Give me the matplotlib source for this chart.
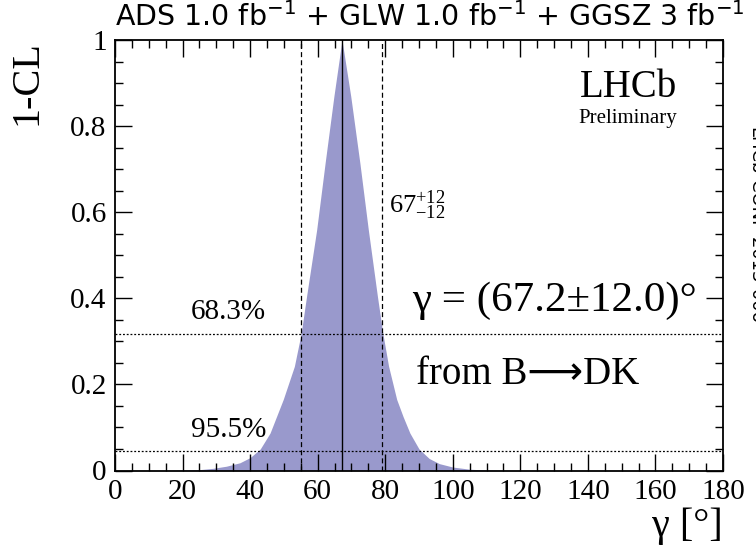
import matplotlib
matplotlib.use("Agg")
import matplotlib.pyplot as plt
from matplotlib.ticker import MultipleLocator, FixedLocator

plt.rcParams['font.family'] = ['Liberation Serif', 'DejaVu Serif']
plt.rcParams['mathtext.fontset'] = 'custom'
plt.rcParams['mathtext.rm'] = 'Liberation Serif'

# Data
gamma = [15, 20, 25, 29, 33, 37, 40, 43, 45.9, 49.8, 53.1, 55.1, 56.7, 59.7, 62.2, 64.8,
         67.2, 69.8, 72.5, 75.0, 77.7, 79.3, 81.0, 83.4, 85.3, 87.3, 90.0, 93.0, 96.0,
         100, 105, 110, 115]
one_minus_cl = [0.0, 0.001, 0.002, 0.005, 0.010, 0.018, 0.030, 0.050, 0.087, 0.165, 0.242,
                0.318, 0.404, 0.559, 0.714, 0.869, 1.0, 0.869, 0.714, 0.559, 0.404, 0.318,
                0.242, 0.165, 0.125, 0.087, 0.050, 0.028, 0.016, 0.008, 0.003, 0.001, 0.0]
best_fit = 67.2
interval_1sigma = [55, 79]
cl_levels = [0.317, 0.045]
cl_labels = ["68.3%", "95.5%"]
x_ticks = [0, 20, 40, 60, 80, 100, 120, 140, 160, 180]
y_ticks = [0, 0.2, 0.4, 0.6, 0.8, 1]
y_ticklabels = ["0", "0.2", "0.4", "0.6", "0.8", "1"]

fig = plt.figure(figsize=(7.56, 5.53), dpi=100)
ax = fig.add_axes([115/756, 1-470.5/553, (723-115)/756, (470.5-40)/553])

ax.fill_between(gamma, one_minus_cl, 0, color='#9999cc', linewidth=0, zorder=1)

for lvl, lab in zip(cl_levels, cl_labels):
    ax.axhline(lvl, color='black', linestyle=(0, (1.5, 1.5)), linewidth=0.9, zorder=3)
    ax.text(22.5, lvl + 0.02, lab, fontsize=21, ha='left', va='bottom', zorder=4)

for xv in interval_1sigma:
    ax.axvline(xv, color='black', linestyle=(0, (4, 2.5)), linewidth=0.9, zorder=3)
ax.axvline(best_fit, color='black', linewidth=1.0, zorder=3)

ax.set_xlim(0, 180)
ax.set_ylim(0, 1)
ax.xaxis.set_major_locator(FixedLocator(x_ticks))
ax.xaxis.set_minor_locator(MultipleLocator(5))
ax.yaxis.set_major_locator(FixedLocator(y_ticks))
ax.set_yticklabels(y_ticklabels)
ax.yaxis.set_minor_locator(MultipleLocator(0.05))
ax.tick_params(which='both', direction='in', top=True, right=True, width=1.0)
ax.tick_params(which='major', length=12, labelsize=21, pad=6)
ax.tick_params(which='minor', length=6)
for s in ax.spines.values():
    s.set_linewidth(1.3)

ax.set_ylabel("1-CL", fontsize=29, loc='top', labelpad=18)
ax.set_xlabel("γ [°]", fontsize=29, loc='right', labelpad=2)

ax.text(0.925, 0.89, "LHCb", transform=ax.transAxes, fontsize=28, ha='right', va='center')
ax.text(0.925, 0.818, "Preliminary", transform=ax.transAxes, fontsize=15, ha='right', va='center')
ax.text(81, 0.615, r"$\mathregular{67^{+12}_{-12}}$", fontsize=19, ha='left', va='center')
ax.text(88, 0.395, "γ = (67.2±12.0)°", fontsize=31, ha='left', va='center')
ax.text(89, 0.223, "from B\u27f6DK", fontsize=28, ha='left', va='center',
        family=['Liberation Serif', 'DejaVu Sans'])

fig.text(430/756, 1-17/553, r"ADS 1.0 fb$^{\mathregular{-1}}$ + GLW 1.0 fb$^{\mathregular{-1}}$ + GGSZ 3 fb$^{\mathregular{-1}}$",
         fontsize=20.5, ha='center', va='center', family=['DejaVu Sans'])
fig.text(746/756, 1-127/553, "LHCb-CONF-2013-006", rotation=-90, fontsize=13,
         ha='left', va='top', family=['DejaVu Sans'])

fig.savefig("out.png", dpi=100)
